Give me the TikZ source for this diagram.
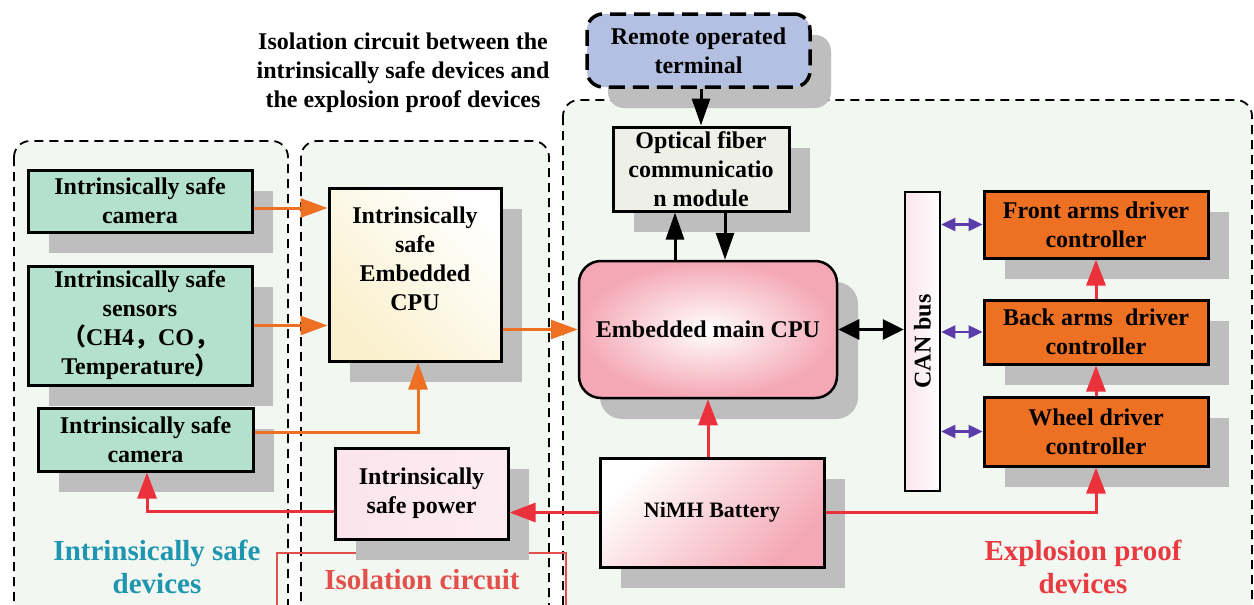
\documentclass[tikz,border=0pt]{standalone}
\usepackage{fontspec}
\setmainfont{Liberation Serif}
\newfontfamily\cjk{Noto Sans CJK SC}
\usetikzlibrary{arrows.meta,shadows,positioning}
\definecolor{boxgreen}{RGB}{180,225,205}
\definecolor{boxorange}{RGB}{237,112,35}
\definecolor{arrorange}{RGB}{237,112,35}
\definecolor{arrred}{RGB}{235,50,60}
\definecolor{arrpurple}{RGB}{90,60,170}
\definecolor{labteal}{RGB}{30,150,175}
\definecolor{labred}{RGB}{225,80,74}
\definecolor{labred2}{RGB}{232,58,64}
\definecolor{contfill}{RGB}{243,247,242}
\definecolor{remfill}{RGB}{180,192,225}
\definecolor{optfill}{RGB}{238,240,232}
\definecolor{shgray}{RGB}{190,190,190}
\definecolor{pinkA}{RGB}{244,167,180}
\definecolor{pinkB}{RGB}{251,228,236}
\definecolor{yelA}{RGB}{250,240,205}
\tikzset{
  txt/.style={font=\fontsize{24}{29}\selectfont\bfseries, align=center},
  box/.style={draw=black, line width=3pt, inner sep=0pt, txt,
    drop shadow={shadow xshift=21pt, shadow yshift=-21pt, fill=shgray, opacity=1}},
  cont/.style={draw=black, line width=1.8pt, dash pattern=on 9pt off 6pt, fill=contfill, rounded corners=16pt},
  oarr/.style={draw=arrorange, line width=3pt, -{Triangle[length=27pt,width=19pt]}},
  rarr/.style={draw=arrred, line width=3pt, -{Triangle[length=26pt,width=19pt]}},
  barr/.style={draw=black, line width=3pt, -{Triangle[length=27pt,width=18pt]}},
  barr2/.style={draw=black, line width=3pt, {Triangle[length=21pt,width=20pt]}-{Triangle[length=21pt,width=20pt]}},
  parr/.style={draw=arrpurple, line width=2.4pt, {Triangle[length=14pt,width=13pt]}-{Triangle[length=14pt,width=13pt]}},
  lab/.style={font=\fontsize{29}{33}\selectfont\bfseries, align=center}
}
\begin{document}
\begin{tikzpicture}[x=1pt,y=-1pt]
\useasboundingbox (0,0) rectangle (1254,605);
\fill[white] (0,0) rectangle (1254,605);
\clip (0,0) rectangle (1254,605);
% containers
\draw[cont] (14,141) rectangle (288,620);
\draw[cont] (301,141) rectangle (549,620);
\draw[cont] (563,100) rectangle (1252,620);
% red outline of isolation label
\draw[labred, line width=1.6pt] (277,630) |- (566,553) -- (566,630);
% boxes
\node[box, fill=boxgreen, minimum width=224pt, minimum height=62pt] (cam1) at (140,201) {Intrinsically safe\\camera};
\node[box, fill=boxgreen, minimum width=224pt, minimum height=119pt] (sens) at (140,325.5) {Intrinsically safe\\sensors\\{\cjk （}CH4{\cjk ，}CO{\cjk ，}\\Temperature{\cjk ）}};
\node[box, fill=boxgreen, minimum width=215pt, minimum height=63pt] (cam2) at (145.5,439.5) {Intrinsically safe\\camera};
\node[box, top color=white, bottom color=yelA, shading angle=-45, minimum width=172pt, minimum height=173pt, text depth=32pt] (ecpu) at (415,274.5) {Intrinsically\\safe\\Embedded\\CPU};
\node[box, left color=pinkB, right color=pinkB!70!white, minimum width=173pt, minimum height=91pt] (power) at (421.5,493.5) {Intrinsically\\safe power};
\node[box, draw=black, dash pattern=on 16pt off 8pt, line width=3.5pt, fill=remfill, rounded corners=16pt, minimum width=223pt, minimum height=73pt] (remote) at (698.5,50.5) {Remote operated\\terminal};
\node[box, fill=optfill, minimum width=176pt, minimum height=84pt] (optical) at (701,169) {Optical fiber\\communicatio\\n module};
\node[box, inner color=white, outer color=pinkA, rounded corners=22pt, line width=2.5pt, minimum width=258pt, minimum height=137pt] (main) at (708,329.5) {Embedded main CPU};
\node[box, left color=white, right color=pinkA, shading angle=45, minimum width=224pt, minimum height=109pt, font=\fontsize{22}{26}\selectfont\bfseries] (batt) at (712,512.5) {NiMH Battery};
\node[draw=black, line width=2.5pt, left color=pinkB, right color=white, minimum width=35pt, minimum height=299pt, inner sep=0pt] (can) at (922.5,341.5) {};
\node[txt, rotate=90] (cantxt) at (can.center) {CAN bus};
\node[box, fill=boxorange, minimum width=224pt, minimum height=67pt] (front) at (1096,224.5) {Front arms driver\\controller};
\node[box, fill=boxorange, minimum width=224pt, minimum height=64pt] (back) at (1096,332) {Back arms~ driver\\controller};
\node[box, fill=boxorange, minimum width=224pt, minimum height=69pt] (wheel) at (1096,431.5) {Wheel driver\\controller};
% labels
\node[txt] (title) at (403,73) {Isolation circuit between the\\intrinsically safe devices and\\the explosion proof devices};
\node[lab, text=labteal] (l1) at (157,567) {Intrinsically safe\\devices};
\node[lab, text=labred] (l2) at (422,580) {Isolation circuit};
\node[lab, text=labred2] (l3) at (1083,567) {Explosion proof\\devices};
% connectors
\draw[oarr] ([yshift=-7pt]cam1.east) -- ([yshift=-7pt]cam1.east -| ecpu.west);
\draw[oarr] (sens.east) -- (sens.east -| ecpu.west);
\draw[oarr] ([yshift=7pt]cam2.east) -| ([xshift=3pt]ecpu.south);
\draw[oarr] (ecpu.east |- main.west) -- (main.west);
\draw[rarr] ([yshift=-18pt]power.west) -| ([xshift=1.5pt]cam2.south);
\draw[rarr] (batt.west) -- (batt.west -| power.east);
\draw[rarr] (batt.east) -| (wheel.south);
\draw[rarr] (wheel.north) -- (back.south);
\draw[rarr] (back.north) -- (front.south);
\draw[rarr] (main.south |- batt.north) -- (main.south);
\draw[barr2] (main.east) -- (main.east -| can.west);
\draw[parr] (front.west -| can.east) -- (front.west);
\draw[parr] (back.west -| can.east) -- (back.west);
\draw[parr] (wheel.west -| can.east) -- (wheel.west);
\draw[barr] (optical.north |- remote.south) -- (optical.north);
\draw[barr] ([xshift=-26pt]optical.south |- main.north) -- ([xshift=-26pt]optical.south);
\draw[barr] ([xshift=24pt]optical.south) -- ([xshift=24pt]optical.south |- main.north);
\end{tikzpicture}
\end{document}
